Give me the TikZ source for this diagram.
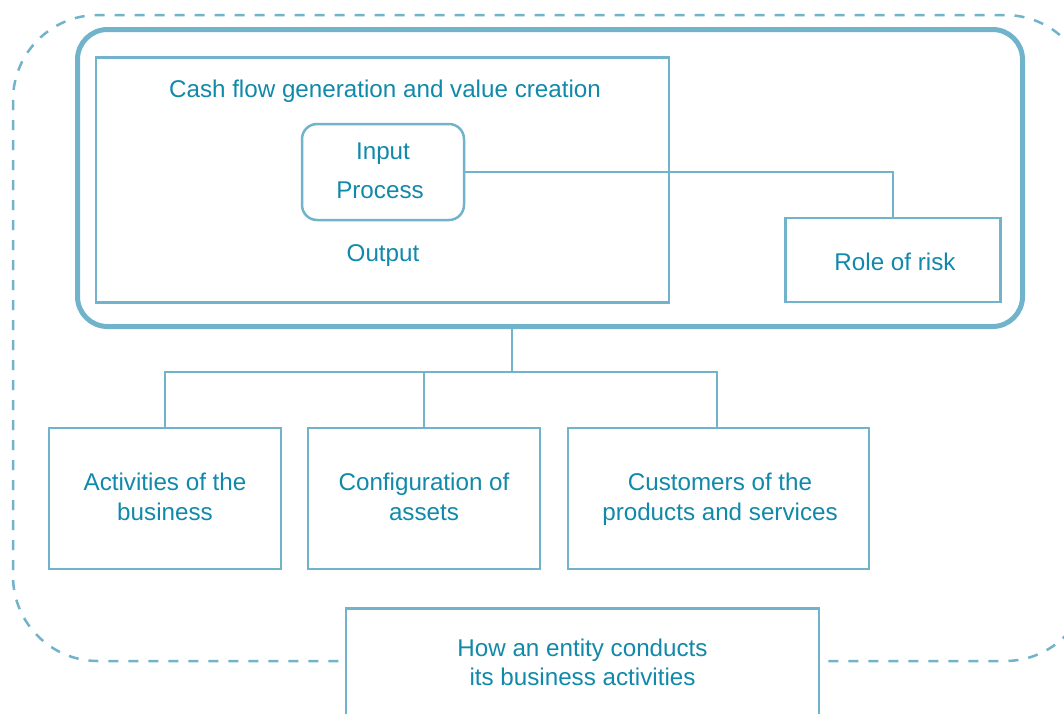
\documentclass[tikz,border=0pt]{standalone}
\usepackage{fontspec}
\setmainfont{Liberation Sans}
\definecolor{ln}{RGB}{113,179,203}
\definecolor{tx}{RGB}{17,137,170}
\begin{document}
\begin{tikzpicture}[x=1pt,y=-1pt,
  font=\fontsize{24.2}{30}\selectfont,
  box/.style={draw=ln, line width=2.5pt, fill=white, text=tx, align=center, inner sep=0pt},
  txt/.style={text=tx, align=center, inner sep=0pt},
  conn/.style={draw=ln, line width=2.5pt}]
\clip (0,0) rectangle (1064,713);
\fill[white] (0,0) rectangle (1064,713);
% dashed outer boundary
\draw[ln, line width=2.5pt, dash pattern=on 10pt off 10pt, rounded corners=85pt] (13,15) rectangle (1090,661);
% thick rounded frame
\node[draw=ln, line width=5pt, rounded corners=30pt, minimum width=945pt, minimum height=297pt, inner sep=0pt] (core) at (550,178) {};
% cash flow box
\node[box, minimum width=573pt, minimum height=245pt] (cash) at (382.5,180) {};
\node[txt] (cashlbl) at (385,91.5) {Cash flow generation and value creation};
\node[box, rounded corners=15pt, minimum width=162pt, minimum height=96pt] (ip) at (383,172) {};
\node[txt] (inlbl) at (383,154) {Input};
\node[txt] (proclbl) at (380,190.5) {Process};
\node[txt] (outlbl) at (383,256) {Output};
% role of risk
\node[box, minimum width=215pt, minimum height=84pt] (risk) at (893,260) {};
\node[txt] (risklbl) at (895,261.5) {Role of risk};
\draw[conn] (ip.east |- 0,172) -| (risk.north);
% tree
\coordinate (hub) at (512,372);
\node[box, minimum width=232pt, minimum height=141pt] (act) at (165,498.5) {};
\node[txt] (actlbl) at (165,497) {Activities of the\\business};
\node[box, minimum width=232pt, minimum height=141pt] (conf) at (424,498.5) {};
\node[txt] (conflbl) at (424,497) {Configuration of\\assets};
\node[box, minimum width=301pt, minimum height=141pt] (cust) at (718.5,498.5) {};
\node[txt] (custlbl) at (720,499.5) {Customers of the\\products and services};
\draw[conn] (core.south -| hub) -- (hub);
\draw[conn] (act.north) -- (act.north |- hub) -- (717,372) -- (717,428);
\draw[conn] (conf.north) -- (conf.north |- hub);
% bottom box
\node[box, minimum width=473pt, minimum height=160pt, anchor=north] (how) at (582.5,607) {};
\node[txt, font=\fontsize{24.2}{29}\selectfont] (howlbl) at (582.5,662) {How an entity conducts\\its business activities};
\end{tikzpicture}
\end{document}
